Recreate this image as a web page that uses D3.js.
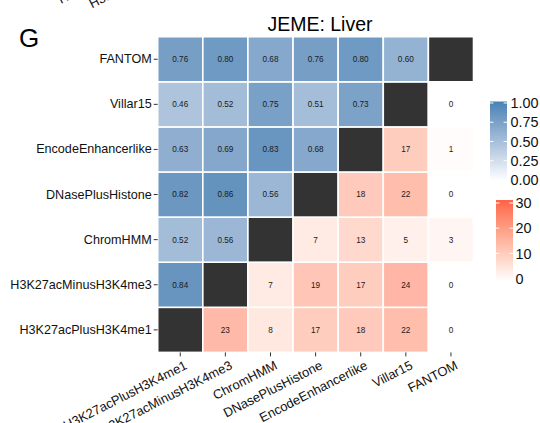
<!DOCTYPE html>
<html>
<head>
<meta charset="utf-8">
<script src="https://cdn.jsdelivr.net/npm/d3@7"></script>
<style>
  html, body { margin: 0; padding: 0; background: #fff; }
  svg { display: block; font-family: "Liberation Sans", Arial, Helvetica, sans-serif; }
</style>
</head>
<body>
<svg id="chart" width="540" height="423"></svg>
<script>
// ---- data ----
const categories = ["H3K27acPlusH3K4me1", "H3K27acMinusH3K4me3", "ChromHMM",
  "DNasePlusHistone", "EncodeEnhancerlike", "Villar15", "FANTOM"];
// similarity[i] : row category i, columns 0..i-1
const similarity = [
  [],
  [0.84],
  [0.52, 0.56],
  [0.82, 0.86, 0.56],
  [0.63, 0.69, 0.83, 0.68],
  [0.46, 0.52, 0.75, 0.51, 0.73],
  [0.76, 0.80, 0.68, 0.76, 0.80, 0.60]
];
// counts[i] : row category i, columns i+1..6
const counts = [
  [23, 8, 17, 18, 22, 0],
  [7, 19, 17, 24, 0],
  [7, 13, 5, 3],
  [18, 22, 0],
  [17, 1],
  [0],
  []
];
const simTicks = [0, 0.25, 0.5, 0.75, 1];
const countTicks = [0, 10, 20, 30];
const titleText = "JEME: Liver";
const panelTag = "G";

// ---- build cells ----
const cells = [];
categories.forEach((rowCat, i) => {
  categories.forEach((colCat, j) => {
    if (j < i) cells.push({ row: rowCat, col: colCat, type: "sim", v: similarity[i][j] });
    else if (j > i) cells.push({ row: rowCat, col: colCat, type: "cnt", v: counts[i][j - i - 1] });
    else cells.push({ row: rowCat, col: colCat, type: "diag", v: null });
  });
});

const svg = d3.select("#chart");
const x = d3.scaleBand().domain(categories).range([157.7, 473.5]).padding(0);
const y = d3.scaleBand().domain(categories).range([352.4, 36.7]).padding(0);

const blueColor = d3.scaleLinear().domain([0, 1]).range(["#ffffff", "steelblue"]).interpolate(d3.interpolateLab);
const redColor = d3.scaleLinear().domain([0, 30]).range(["#ffffff", "tomato"]).interpolate(d3.interpolateLab);
const redTileAlpha = 0.6;

function fillOf(d) {
  if (d.type === "diag") return "#333333";
  if (d.type === "sim") return blueColor(d.v);
  // count tiles are drawn semi-transparent over white
  return d3.interpolateRgb("#ffffff", redColor(d.v))(redTileAlpha);
}

const g = svg.append("g");
g.selectAll("rect.cell").data(cells).enter().append("rect")
  .attr("class", "cell")
  .attr("x", d => x(d.col))
  .attr("y", d => y(d.row))
  .attr("width", x.bandwidth())
  .attr("height", y.bandwidth())
  .attr("fill", fillOf)
  .attr("stroke", "#ffffff")
  .attr("stroke-width", 1.6);

g.selectAll("text.val").data(cells.filter(d => d.type !== "diag")).enter().append("text")
  .attr("class", "val")
  .attr("x", d => x(d.col) + x.bandwidth() / 2)
  .attr("y", d => y(d.row) + y.bandwidth() / 2)
  .attr("dy", "0.35em")
  .attr("text-anchor", "middle")
  .attr("font-size", "8.2px")
  .attr("fill", "#1a1a1a")
  .text(d => d.type === "sim" ? d3.format(".2f")(d.v) : d.v);

// ---- axes ----
const yAxis = d3.axisLeft(y).tickSize(4).tickPadding(2);
const yg = svg.append("g").attr("transform", "translate(157.7,0)").call(yAxis);
yg.select(".domain").remove();
yg.selectAll(".tick line").attr("stroke", "#333").attr("stroke-width", 1);
yg.selectAll(".tick text").attr("font-size", "12.6px").attr("fill", "#111")
  .attr("font-family", "'Liberation Sans', Arial, Helvetica, sans-serif");

const xAngle = -27;
const xAxis = d3.axisBottom(x).tickSize(4).tickPadding(2);
const xg = svg.append("g").attr("transform", "translate(0,352.4)").call(xAxis);
xg.select(".domain").remove();
xg.selectAll(".tick line").attr("stroke", "#333").attr("stroke-width", 1);
xg.selectAll(".tick text")
  .attr("font-size", "13px").attr("fill", "#111")
  .attr("font-family", "'Liberation Sans', Arial, Helvetica, sans-serif")
  .attr("text-anchor", "end")
  .attr("x", 0).attr("y", 0).attr("dy", "0.72em")
  .attr("transform", `translate(3.5,7.5) rotate(${xAngle})`);

// fragments of the previous panel's x labels, cut off at the top edge
[[categories[0], 61, 4], [categories[1], 92, 8.5]].forEach(([t, fx, fy]) => {
  svg.append("text")
    .attr("transform", `translate(${fx},${fy}) rotate(${xAngle})`)
    .attr("text-anchor", "start")
    .attr("font-size", "13px").attr("fill", "#111")
    .text(t);
});

// ---- title & tag ----
svg.append("text").attr("x", 320).attr("y", 31).attr("text-anchor", "middle")
  .attr("font-size", "19.5px").attr("fill", "#000").text(titleText);
svg.append("text").attr("x", 19).attr("y", 47)
  .attr("font-size", "26px").attr("fill", "#000").text(panelTag);

// ---- legends ----
const defs = svg.append("defs");
function colorbar(id, scale, domainMax, x0, yTop, yBot, y0, y1, ticks, fmt, labelX) {
  const grad = defs.append("linearGradient").attr("id", id)
    .attr("x1", 0).attr("y1", 1).attr("x2", 0).attr("y2", 0);
  d3.range(0, 11).forEach(k => {
    grad.append("stop").attr("offset", k / 10).attr("stop-color", scale(domainMax * k / 10));
  });
  const w = 17;
  const lg = svg.append("g");
  lg.append("rect").attr("x", x0).attr("y", yTop).attr("width", w).attr("height", yBot - yTop)
    .attr("fill", `url(#${id})`);
  const ys = d3.scaleLinear().domain([0, domainMax]).range([y0, y1]);
  ticks.forEach(t => {
    const ty = ys(t);
    lg.append("line").attr("x1", x0).attr("x2", x0 + 3.4).attr("y1", ty).attr("y2", ty)
      .attr("stroke", "#fff").attr("stroke-width", 1);
    lg.append("line").attr("x1", x0 + w - 3.4).attr("x2", x0 + w).attr("y1", ty).attr("y2", ty)
      .attr("stroke", "#fff").attr("stroke-width", 1);
    lg.append("text").attr("x", labelX).attr("y", ty).attr("dy", "0.36em")
      .attr("font-size", "14.4px").attr("fill", "#111").text(fmt(t));
  });
}
colorbar("gradBlue", blueColor, 1, 490, 101.5, 181, 180, 103, simTicks, d3.format(".2f"), 510.5);
colorbar("gradRed", redColor, 30, 496, 200, 281.5, 278.5, 203, countTicks, d3.format("d"), 515.5);
</script>
</body>
</html>
